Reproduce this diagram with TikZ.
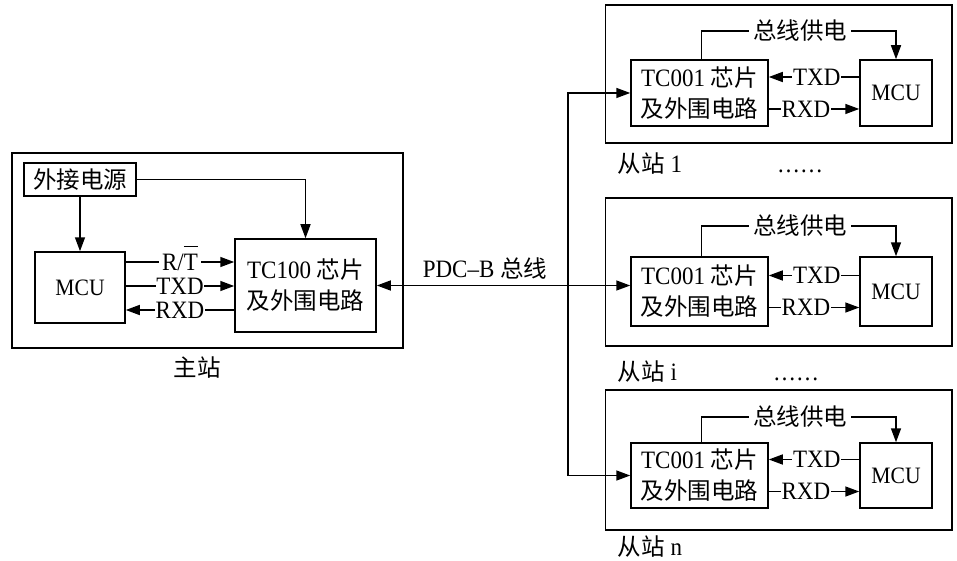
\documentclass[tikz,border=0pt]{standalone}
\usepackage{fontspec}
\setmainfont{Liberation Serif}[FakeStretch=0.92]
\newfontfamily\cjk{Noto Sans CJK SC}[Scale=0.94]
\usetikzlibrary{arrows.meta,calc}
\begin{document}
\begin{tikzpicture}[x=1pt,y=-1pt, line width=1.5pt,
  box/.style={draw, inner sep=0pt, font=\fontsize{25}{31}\selectfont, align=center},
  mcubox/.style={box, font=\fontsize{23.5}{26}\selectfont},
  arr/.style={-{Triangle[length=14pt,width=10pt]}},
  dbl/.style={{Triangle[length=14pt,width=10pt]}-{Triangle[length=14pt,width=10pt]}},
  lab/.style={fill=white, inner xsep=2pt, inner ysep=0pt, font=\fontsize{25}{28}\selectfont},
  txt/.style={inner sep=0pt, font=\fontsize{25}{28}\selectfont}]
\useasboundingbox (0,0) rectangle (957,561);
% main station
\node[box, minimum width=391pt, minimum height=195pt] (mainbox) at (207.5,250.5) {};
\node[box, minimum width=112pt, minimum height=33pt] (pwr) at (80,179.5) {\cjk 外接电源};
\node[mcubox, minimum width=90pt, minimum height=71pt] (mcu0) at (80,287.5) {MCU};
\node[box, minimum width=141pt, minimum height=93pt] (tc100) at (305.5,285.5) {TC100 {\cjk 芯片}\\{\cjk 及外围电路}};
\draw[arr] (pwr.south) -- (mcu0.north);
\draw[arr] (pwr.east) -| (tc100.north);
\coordinate (yrt) at (0,262);
\coordinate (ytx) at (0,286);
\coordinate (yrx) at (0,310);
\draw[arr] (mcu0.east |- yrt) -- node[lab, inner xsep=3pt]{R/\makebox[0pt][l]{\smash{\rule[0.93em]{0.58em}{1.2pt}}}T} (tc100.west |- yrt);
\draw[arr] (mcu0.east |- ytx) -- node[lab, inner xsep=0.5pt]{TXD} (tc100.west |- ytx);
\draw[arr] (tc100.west |- yrx) -- node[lab, inner xsep=0.5pt]{RXD} (mcu0.east |- yrx);
\node[txt] (mlab) at (197,368) {\cjk 主站};
% slaves
\foreach \n/\oT/\oB/\tT/\tB/\pY/\lY/\lB in {s1/5/143/60/126/31/173/1, si/198/346/257/326/226/380/i, sn/390/530/443/508/417/555/n} {
  \node[box, minimum width=346.5pt, minimum height={(\oB-\oT)*1pt}] (o\n) at (778.75,{(\oT+\oB)/2}) {};
  \node[box, minimum width=137pt, minimum height={(\tB-\tT)*1pt}] (tc\n) at (699.5,{(\tT+\tB)/2}) {TC001 {\cjk 芯片}\\{\cjk 及外围电路}};
  \node[mcubox, minimum width=72pt, minimum height={(\tB-\tT)*1pt}] (mcu\n) at (896,{(\tT+\tB)/2}) {MCU};
  \coordinate (p\n) at (800,\pY);
  \draw[arr] ([xshift=2pt]tc\n.north) |- (p\n) -| (mcu\n.north);
  \node[lab, inner xsep=4pt] (pl\n) at (p\n) {\cjk 总线供电};
  \coordinate (tx\n) at (0,{(\tT+\tB)/2-16});
  \coordinate (rx\n) at (0,{(\tT+\tB)/2+16});
  \draw[arr] (mcu\n.west |- tx\n) -- node[lab, inner xsep=1pt, pos=0.47]{TXD} (tc\n.east |- tx\n);
  \draw[arr] (tc\n.east |- rx\n) -- node[lab, inner xsep=1pt, pos=0.41]{RXD} (mcu\n.west |- rx\n);
  \node[txt, anchor=base west] (sl\n) at (617,\lY) {{\cjk 从站} \lB};
}
\node[txt, anchor=base] (dots1) at (800,173) {……};
\node[txt, anchor=base] (dots2) at (796,380) {……};
% bus
\draw[dbl] (tc100.east) -- (tc100.east -| tcsi.west);
\node[txt, anchor=base] (buslab) at (485,277) {PDC–B {\cjk 总线}};
\coordinate (xbus) at (568,0);
\draw[dbl] (tcs1.west) -| (xbus |- tcsn.west) -- (tcsn.west);
\end{tikzpicture}
\end{document}
